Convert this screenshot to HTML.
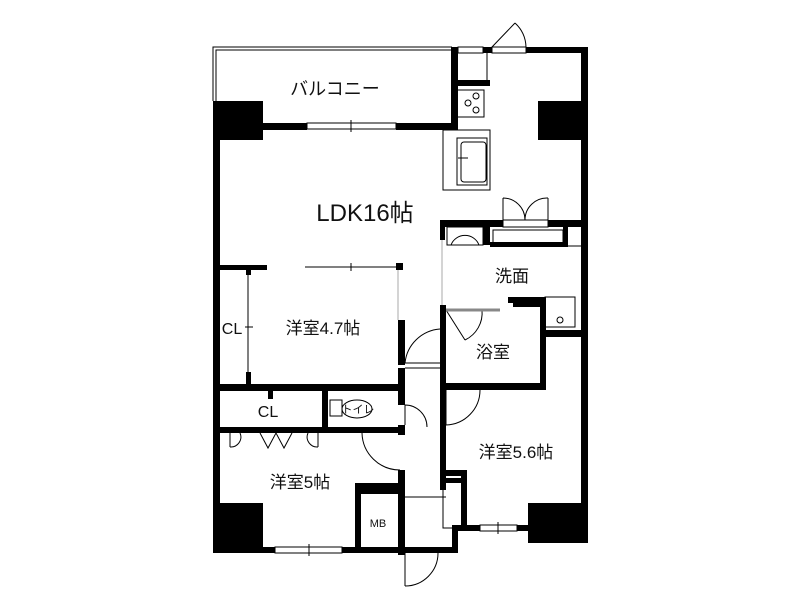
<!DOCTYPE html>
<html><head><meta charset="utf-8"><style>
html,body{margin:0;padding:0;background:#fff;}
svg{display:block;}
text{font-family:"Liberation Sans","Noto Sans CJK JP",sans-serif;fill:#111;}
</style></head><body>
<svg width="800" height="600" viewBox="0 0 800 600" xmlns="http://www.w3.org/2000/svg">
<rect width="800" height="600" fill="#fff"/>
<g fill="none" stroke="#000" stroke-width="1">
<path d="M213,101 V47 H452"/><path d="M216,101 V50 H452"/>
<rect x="307" y="123" width="89" height="6"/><line x1="351" y1="120" x2="351" y2="132"/>
<rect x="458" y="47" width="25" height="6"/>
<rect x="492" y="47" width="34" height="6"/>
<path d="M492,47 L515,23 M515,23 A34,34 0 0 1 526,47"/>
<rect x="443" y="130" width="47" height="60"/>
<rect x="457" y="90" width="27" height="27"/>
<circle cx="476" cy="96" r="3"/><circle cx="468" cy="103" r="3"/><circle cx="476" cy="110" r="3"/>
<rect x="457" y="138" width="30" height="47"/>
<rect x="461" y="142" width="25" height="40" rx="3"/>
<line x1="458" y1="158" x2="468" y2="158"/>
<line x1="487" y1="53" x2="487" y2="80"/>
<rect x="503" y="220" width="45" height="7"/>
<path d="M503,198 V220 M503,198 A22,22 0 0 1 525,220 M548,198 V220 M548,198 A22,22 0 0 0 525,220"/>
<rect x="447" y="227" width="36" height="18"/>
<path d="M451,245 A15,15 0 0 1 479,245"/>
<rect x="493" y="230" width="70" height="14"/>
<rect x="545" y="297" width="30" height="30"/><circle cx="560" cy="320" r="3"/>
<line x1="568" y1="246" x2="583" y2="246"/>
<line x1="305" y1="267" x2="400" y2="267"/><line x1="351" y1="263" x2="351" y2="271"/>
<line x1="248" y1="270" x2="248" y2="375"/><line x1="245" y1="327" x2="253" y2="327"/>
<line x1="398" y1="270" x2="398" y2="320" stroke="#aaa"/>
<line x1="442" y1="240" x2="442" y2="305" stroke="#aaa"/>
<path d="M405,363 A38,38 0 0 1 440,329 M405,363 H440 M405,368 H440"/>
<path d="M405,425 V405 M405,405 A22,22 0 0 1 427,427"/>
<path d="M362,433 A38,38 0 0 0 400,470"/>
<path d="M446,390 V425 M446,425 A35,35 0 0 0 480,390"/>
<path d="M446,310 L465,340 M465,340 A30,30 0 0 0 482,310"/>
<line x1="446" y1="310" x2="500" y2="310" stroke="#888" stroke-width="3"/>
<path d="M230,433 V447 M230,447 A10,10 0 0 0 240,433 M260,433 L268,448 L276,433 L284,448 L292,433 M318,433 V447 M318,447 A10,10 0 0 1 308,433"/>
<rect x="330" y="400" width="12" height="16"/><ellipse cx="357" cy="409" rx="15" ry="9"/>
<rect x="275" y="547" width="67" height="6"/><line x1="309" y1="544" x2="309" y2="556"/>
<rect x="480" y="525" width="37" height="6"/><line x1="498" y1="522" x2="498" y2="534"/>
<path d="M405,553 V586 M405,586 A33,33 0 0 0 438,553"/>
<line x1="405" y1="497" x2="446" y2="497"/>
<path d="M443,490 V528 H453"/>
</g>
<g fill="#000">
<rect x="213" y="101" width="50" height="39"/>
<rect x="538" y="101" width="48" height="39"/>
<rect x="213" y="503" width="50" height="47"/>
<rect x="528" y="503" width="60" height="40"/>
<rect x="263" y="123" width="44" height="7"/><rect x="396" y="123" width="61" height="7"/>
<rect x="451" y="47" width="7" height="83"/>
<rect x="483" y="47" width="9" height="6"/>
<rect x="526" y="47" width="62" height="6"/>
<rect x="581" y="47" width="7" height="460"/>
<rect x="457" y="80" width="33" height="6"/>
<rect x="213" y="140" width="7" height="410"/>
<rect x="440" y="220" width="63" height="7"/><rect x="548" y="220" width="40" height="7"/>
<rect x="440" y="220" width="5" height="20"/>
<rect x="483" y="227" width="7" height="18"/><rect x="490" y="242" width="75" height="5"/><rect x="563" y="227" width="5" height="20"/>
<rect x="220" y="265" width="47" height="5"/><rect x="246" y="265" width="5" height="10"/><rect x="396" y="263" width="7" height="7"/>
<rect x="246" y="372" width="5" height="12"/>
<rect x="213" y="384" width="192" height="7"/>
<rect x="268" y="384" width="5" height="15"/>
<rect x="322" y="391" width="6" height="42"/>
<rect x="213" y="427" width="192" height="6"/>
<rect x="398" y="320" width="7" height="45"/><rect x="398" y="368" width="7" height="37"/><rect x="398" y="425" width="7" height="10"/><rect x="398" y="470" width="7" height="85"/>
<rect x="440" y="305" width="6" height="185"/>
<rect x="440" y="383" width="105" height="7"/>
<rect x="540" y="297" width="6" height="93"/>
<rect x="508" y="297" width="38" height="6"/>
<rect x="513" y="303" width="27" height="4"/>
<rect x="546" y="330" width="42" height="7"/>
<rect x="440" y="470" width="27" height="6"/><rect x="461" y="470" width="6" height="58"/>
<rect x="445" y="478" width="16" height="5"/>
<rect x="453" y="525" width="27" height="6"/><rect x="517" y="525" width="15" height="6"/>
<rect x="213" y="547" width="62" height="6"/><rect x="342" y="547" width="115" height="6"/>
<rect x="452" y="525" width="6" height="28"/>
<rect x="355" y="483" width="45" height="6"/><rect x="355" y="483" width="6" height="67"/>
<rect x="361" y="489" width="39" height="5"/>
</g>
<text x="335" y="95" font-size="18" text-anchor="middle">バルコニー</text>
<text x="365" y="221" font-size="24" text-anchor="middle">LDK16帖</text>
<text x="512" y="282" font-size="17" text-anchor="middle">洗面</text>
<text x="323" y="334" font-size="17" text-anchor="middle">洋室4.7帖</text>
<text x="232" y="334" font-size="16" text-anchor="middle">CL</text>
<text x="493" y="358" font-size="17" text-anchor="middle">浴室</text>
<text x="268" y="417" font-size="16" text-anchor="middle">CL</text>
<text x="358" y="413" font-size="11" text-anchor="middle">トイレ</text>
<text x="516" y="458" font-size="17" text-anchor="middle">洋室5.6帖</text>
<text x="300" y="488" font-size="17" text-anchor="middle">洋室5帖</text>
<text x="378" y="527" font-size="11" text-anchor="middle">MB</text>
</svg>
</body></html>
